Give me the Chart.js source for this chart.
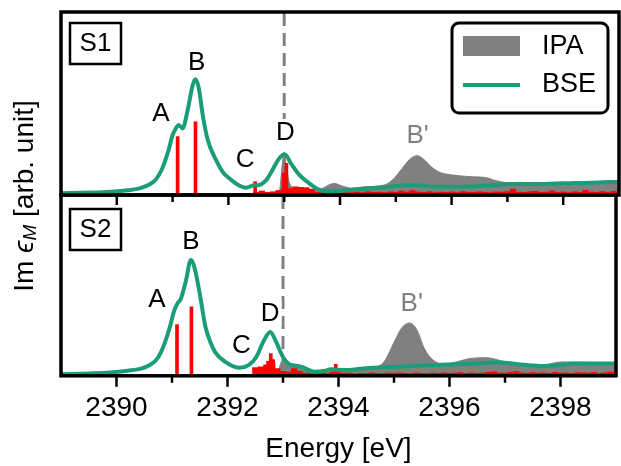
<!DOCTYPE html>
<html>
<head>
<meta charset="utf-8">
<script src="https://cdn.jsdelivr.net/npm/chart.js@4"></script>
<style>
  body { margin: 0; background: #fff; }
  #wrap { position: relative; width: 621px; height: 466px; }
  #wrap canvas { position: absolute; left: 0; top: 0; }
</style>
</head>
<body>
<div id="wrap">
  <canvas id="bottomChart" width="621" height="466"></canvas>
  <canvas id="topChart" width="621" height="466"></canvas>
</div>
<script>
// energy axis
const xMin = 2389, xMax = 2399;
const majorTicks = [2390, 2392, 2394, 2396, 2398];
const markerEnergy = 2393.0;

// values in % of panel height

// S1 - BSE spectrum
const s1BseE = [2389.0, 2389.5, 2389.9, 2390.2, 2390.41, 2390.6, 2390.7, 2390.8, 2390.92, 2391.0,
  2391.07, 2391.11, 2391.18, 2391.27, 2391.36, 2391.41, 2391.47, 2391.54, 2391.63, 2391.78,
  2391.9, 2392.02, 2392.15, 2392.32, 2392.45, 2392.55, 2392.63, 2392.7, 2392.79, 2392.91,
  2393.01, 2393.12, 2393.27, 2393.45, 2393.6, 2393.8, 2394.0, 2394.3, 2394.8, 2395.3,
  2395.7, 2396.1, 2396.6, 2397.1, 2397.6, 2398.0, 2398.5, 2399.0];
const s1Bse = [1.0, 1.3, 1.8, 2.6, 3.6, 6, 8.5, 13.5, 23.7, 32.8,
  37, 38.3, 36.4, 46.4, 60, 63.2, 58.3, 43.7, 30, 19,
  12.5, 9, 6, 4, 5.3, 5.5, 6.8, 9, 13.7, 20,
  22.2, 17.3, 11, 6.4, 3.3, 2, 2.2, 3, 4.2, 5.5,
  4.5, 4.5, 5, 6, 6, 6.4, 6.7, 7.3];

// S1 - IPA spectrum
const s1IpaE = [2389.0, 2392.85, 2392.92, 2392.96, 2393.0, 2393.04, 2393.1, 2393.25, 2393.5, 2393.65,
  2393.8, 2393.9, 2394.05, 2394.2, 2394.45, 2394.8, 2394.95, 2395.1, 2395.25, 2395.38,
  2395.5, 2395.65, 2395.8, 2396.0, 2396.35, 2396.6, 2396.8, 2397.0, 2397.25, 2397.7,
  2398.1, 2398.6, 2399.0];
const s1Ipa = [0, 0, 3, 15, 23.5, 15, 6, 3, 2, 3,
  5.5, 6.3, 4.8, 3.8, 4.5, 5.5, 8.5, 14, 19.5, 21.5,
  19.5, 15, 12.3, 11, 10, 9.6, 7.8, 6.7, 6.4, 6.7,
  6.4, 6.7, 7];

// S1 - strong transitions
const s1PeakE = [2391.09, 2391.41, 2392.48, 2392.99, 2393.04];
const s1Peak = [31.9, 40, 7.3, 12, 17.3];

// weak transitions (same energy grid in both panels)
const smallBarE = [2392.5, 2392.6, 2392.7, 2392.8, 2392.9,
  2393.0, 2393.1, 2393.2, 2393.3, 2393.4, 2393.5, 2393.6, 2393.7, 2393.8, 2393.9,
  2394.0, 2394.1, 2394.2, 2394.3, 2394.4, 2394.5, 2394.6, 2394.7, 2394.8, 2394.9,
  2395.0, 2395.1, 2395.2, 2395.3, 2395.4, 2395.5, 2395.6, 2395.7, 2395.8, 2395.9,
  2396.0, 2396.1, 2396.2, 2396.3, 2396.4, 2396.5, 2396.6, 2396.7, 2396.8, 2396.9,
  2397.0, 2397.1, 2397.2, 2397.3, 2397.4, 2397.5, 2397.6, 2397.7, 2397.8, 2397.9,
  2398.0, 2398.1, 2398.2, 2398.3, 2398.4, 2398.5, 2398.6, 2398.7, 2398.8, 2398.9,
  2399.0];
const s1Small = [1.5, 2.2, 1.5, 1.8, 2.5,
  3, 3.5, 4.5, 4.2, 4, 3.2, 1.5, 1.2, 1.5, 1.4,
  2.6, 1.4, 1.2, 1.6, 1.3, 1.8, 1.4, 1.5, 1.3, 1.7,
  1.5, 2.2, 1.6, 2.4, 1.7, 1.4, 1.8, 1.3, 1.6, 1.4,
  1.7, 1.3, 1.9, 1.5, 1.4, 1.8, 1.5, 1.3, 1.7, 1.6,
  1.9, 3.2, 1.6, 1.4, 1.8, 2.0, 1.4, 1.6, 2.3, 1.5,
  1.7, 1.3, 1.8, 1.5, 2.6, 1.6, 1.4, 1.9, 1.5, 2.0,
  1.6];

// S2 - BSE spectrum
const s2BseE = [2389.0, 2389.5, 2389.88, 2390.2, 2390.46, 2390.6, 2390.71, 2390.8, 2390.89, 2390.97,
  2391.04, 2391.1, 2391.16, 2391.25, 2391.34, 2391.42, 2391.52, 2391.6, 2391.7, 2391.78,
  2391.96, 2392.2, 2392.38, 2392.52, 2392.64, 2392.77, 2392.88, 2393.0, 2393.14, 2393.32,
  2393.57, 2393.75, 2393.86, 2394.1, 2394.46, 2395.05, 2395.64, 2396.25, 2396.84, 2397.43,
  2397.73, 2398.32, 2399.0];
const s2Bse = [0.9, 1.3, 1.8, 2.8, 4.1, 6, 8.6, 13, 20, 28,
  36, 40, 42.6, 52.5, 64, 58, 41.8, 27.4, 18, 13,
  7.7, 4.5, 5.9, 10.4, 18.5, 24.2, 18.5, 10.4, 5.9, 5,
  2.3, 2.8, 3.6, 3.2, 4.1, 5, 5.9, 6.5, 7.3, 5.9,
  5.4, 6.8, 6.8];

// S2 - IPA spectrum
const s2IpaE = [2389.0, 2392.85, 2392.92, 2392.98, 2393.1, 2393.3, 2393.45, 2393.6, 2393.8, 2394.2,
  2394.6, 2394.82, 2395.0, 2395.14, 2395.28, 2395.41, 2395.55, 2395.71, 2395.89, 2396.13,
  2396.36, 2396.66, 2396.9, 2397.14, 2397.43, 2397.7, 2398.04, 2398.63, 2399.0];
const s2Ipa = [0, 0, 3, 8, 7, 6, 3.5, 2.3, 3.5, 3.8,
  4.5, 7.7, 18.5, 26.5, 29.2, 25.6, 14.9, 8.6, 6.5, 7.7,
  9.5, 10, 8.6, 6.5, 5, 6, 7.7, 7.3, 7];

// S2 - strong transitions
const s2PeakE = [2391.09, 2391.35, 2392.68, 2392.73, 2392.78, 2392.83, 2393.95];
const s2Peak = [28.3, 38.2, 4, 8, 12.3, 7, 6.4];

const s2Small = [4.5, 5, 6, 9, 4,
  2.5, 2, 4, 2.5, 1.5, 1.2, 1.2, 1.5, 1.3, 2,
  1.8, 1.3, 1.5, 1.1, 1.4, 1.2, 1.6, 1.3, 1.2, 1.5,
  1.3, 1.7, 1.4, 1.2, 1.6, 1.3, 1.2, 1.5, 1.4, 1.7,
  1.3, 1.5, 1.8, 1.4, 1.6, 1.3, 1.5, 1.9, 2.2, 1.7,
  1.5, 1.9, 2.4, 1.6, 1.4, 1.8, 1.5, 1.7, 1.4, 1.9,
  1.5, 1.7, 1.4, 1.8, 1.6, 1.5, 1.9, 1.4, 1.7, 2.0,
  1.5];

// peak labels [text, energy, value]
const s1Labels = [['A', 2390.79, 44.8], ['B', 2391.43, 72.7], ['C', 2392.30, 19.7], ['D', 2393.02, 34.4], ["B'", 2395.39, 32.8]];
const s2Labels = [['A', 2390.73, 42.5], ['B', 2391.34, 74.7], ['C', 2392.25, 17.2], ['D', 2392.77, 35.0], ["B'", 2395.32, 40.3]];

const GREEN = '#1b9e77';
const GRAY = '#808080';
const RED = '#ff0000';
const FONT = "'Liberation Sans', Arial, sans-serif";

Chart.defaults.font.family = FONT;
Chart.defaults.color = '#000';

function pts(xs, ys) {
  return xs.map((e, i) => ({x: e, y: ys[i]}));
}

function panelDatasets(bseE, bse, ipaE, ipa, peakE, peak, small) {
  return [
    {
      type: 'line', label: 'BSE', data: pts(bseE, bse),
      borderColor: GREEN, borderWidth: 4, pointRadius: 0,
      cubicInterpolationMode: 'monotone', fill: false, order: 1
    },
    {
      type: 'bar', data: pts(peakE, peak), backgroundColor: RED,
      barThickness: 3, grouped: false, order: 2
    },
    {
      type: 'bar', data: pts(smallBarE, small), backgroundColor: RED,
      barThickness: 5.5, grouped: false, order: 3
    },
    {
      type: 'line', label: 'IPA', data: pts(ipaE, ipa),
      borderColor: GRAY, borderWidth: 1, backgroundColor: GRAY, pointRadius: 0,
      cubicInterpolationMode: 'monotone', fill: 'origin', order: 4
    }
  ];
}

function drawTicks(ctx, chart, which) {
  const x = chart.scales.x, a = chart.chartArea;
  ctx.save();
  ctx.strokeStyle = '#000';
  ctx.lineWidth = 2.5;
  for (let v = xMin + 1; v < xMax; v++) {
    const major = v % 2 === 0;
    if (which === 'minor' && major) continue;
    const px = x.getPixelForValue(v);
    ctx.beginPath();
    ctx.moveTo(px, a.bottom);
    ctx.lineTo(px, a.bottom + (major ? 10 : 7));
    ctx.stroke();
  }
  ctx.restore();
}

const panelDecor = {
  id: 'panelDecor',
  beforeDatasetsDraw(chart, args, opts) {
    const {ctx, chartArea: a} = chart;
    const px = chart.scales.x.getPixelForValue(markerEnergy);
    ctx.save();
    ctx.strokeStyle = GRAY;
    ctx.lineWidth = 3;
    ctx.setLineDash([13, 7]);
    ctx.beginPath();
    ctx.moveTo(px, a.top + 1);
    ctx.lineTo(px, a.bottom);
    ctx.stroke();
    ctx.restore();
  },
  afterDatasetsDraw(chart, args, opts) {
    const {ctx, chartArea: a, scales: {x, y}} = chart;
    ctx.save();

    // peak labels with white backing
    ctx.font = '26px ' + FONT;
    ctx.textAlign = 'center';
    ctx.textBaseline = 'middle';
    opts.labels.forEach(([txt, e, v]) => {
      const px = x.getPixelForValue(e), py = y.getPixelForValue(v);
      const w = ctx.measureText(txt).width;
      ctx.fillStyle = '#fff';
      ctx.fillRect(px - w / 2 - 2, py - 13, w + 4, 27);
      ctx.fillStyle = txt === "B'" ? GRAY : '#000';
      ctx.fillText(txt, px, py + 1);
    });

    // sample box
    const bx = a.left + 9, by = a.top + opts.boxTop;
    ctx.fillStyle = '#fff';
    ctx.fillRect(bx, by, 51, 41);
    ctx.strokeStyle = '#000';
    ctx.lineWidth = 2.5;
    ctx.strokeRect(bx, by, 51, 41);
    ctx.fillStyle = '#000';
    ctx.fillText(opts.name, bx + 25.5, by + 21);

    // legend
    if (opts.legend) {
      const lx = a.right - 167, ly = a.top + 11, lw = 156, lh = 90, r = 7;
      ctx.beginPath();
      ctx.moveTo(lx + r, ly);
      ctx.arcTo(lx + lw, ly, lx + lw, ly + lh, r);
      ctx.arcTo(lx + lw, ly + lh, lx, ly + lh, r);
      ctx.arcTo(lx, ly + lh, lx, ly, r);
      ctx.arcTo(lx, ly, lx + lw, ly, r);
      ctx.closePath();
      ctx.fillStyle = '#fff';
      ctx.fill();
      ctx.lineWidth = 3;
      ctx.strokeStyle = '#000';
      ctx.stroke();
      ctx.fillStyle = GRAY;
      ctx.fillRect(lx + 11, ly + 13, 57, 20);
      ctx.strokeStyle = GREEN;
      ctx.lineWidth = 4;
      ctx.beginPath();
      ctx.moveTo(lx + 11, ly + 62);
      ctx.lineTo(lx + 68, ly + 62);
      ctx.stroke();
      ctx.fillStyle = '#000';
      ctx.font = '27px ' + FONT;
      ctx.textAlign = 'left';
      ctx.fillText('IPA', lx + 90, ly + 24);
      ctx.fillText('BSE', lx + 90, ly + 62);
    }

    // frame
    ctx.strokeStyle = '#000';
    ctx.lineWidth = 3.5;
    ctx.strokeRect(a.left, a.top, a.right - a.left, a.bottom - a.top);
    ctx.restore();

    drawTicks(ctx, chart, opts.ticks);
  },
  afterDraw(chart, args, opts) {
    if (!opts.yTitle) return;
    const ctx = chart.ctx;
    ctx.save();
    ctx.translate(25, 196);
    ctx.rotate(-Math.PI / 2);
    ctx.fillStyle = '#000';
    ctx.textBaseline = 'middle';
    ctx.textAlign = 'left';
    const parts = [
      ['Im ', '28px ' + FONT, 0],
      ['\u03F5', 'italic 28px ' + FONT, 0],
      ['M', 'italic 19px ' + FONT, 6],
      [' [arb. unit]', '28px ' + FONT, 0]
    ];
    let total = 0;
    parts.forEach(p => { ctx.font = p[1]; total += ctx.measureText(p[0]).width; });
    let cx = -total / 2;
    parts.forEach(p => {
      ctx.font = p[1];
      ctx.fillText(p[0], cx, p[2]);
      cx += ctx.measureText(p[0]).width;
    });
    ctx.restore();
  }
};

const topChart = new Chart(document.getElementById('topChart'), {
  type: 'bar',
  data: { datasets: panelDatasets(s1BseE, s1Bse, s1IpaE, s1Ipa, s1PeakE, s1Peak, s1Small) },
  options: {
    responsive: false,
    animation: false,
    layout: { padding: { left: 61, right: 2, top: 12, bottom: 271 } },
    scales: {
      x: { type: 'linear', min: xMin, max: xMax, display: false, offset: false },
      y: { min: 0, max: 100, display: false }
    },
    plugins: {
      legend: { display: false },
      tooltip: { enabled: false },
      panelDecor: { labels: s1Labels, name: 'S1', boxTop: 11, legend: true, ticks: 'all', yTitle: true }
    }
  },
  plugins: [panelDecor]
});

const bottomChart = new Chart(document.getElementById('bottomChart'), {
  type: 'bar',
  data: { datasets: panelDatasets(s2BseE, s2Bse, s2IpaE, s2Ipa, s2PeakE, s2Peak, s2Small) },
  options: {
    responsive: false,
    animation: false,
    layout: { padding: { left: 61, right: 2, top: 195, bottom: 0 } },
    scales: {
      x: {
        type: 'linear', min: xMin, max: xMax, offset: false,
        border: { display: false },
        grid: {
          drawOnChartArea: false, offset: false, tickLength: 11, tickWidth: 2.5,
          tickColor: c => (c.tick && c.tick.value % 2 === 0) ? '#000' : 'rgba(0,0,0,0)'
        },
        ticks: {
          stepSize: 1, autoSkip: false, maxRotation: 0, padding: 5,
          font: { size: 28 }, color: '#000',
          callback: v => majorTicks.includes(v) ? String(v) : ''
        },
        title: { display: true, text: 'Energy [eV]', font: { size: 28 }, color: '#000', padding: { top: 2, bottom: 0 } }
      },
      y: { min: 0, max: 100, display: false }
    },
    plugins: {
      legend: { display: false },
      tooltip: { enabled: false },
      panelDecor: { labels: s2Labels, name: 'S2', boxTop: 14, legend: false, ticks: 'minor', yTitle: false }
    }
  },
  plugins: [panelDecor]
});
</script>
</body>
</html>
